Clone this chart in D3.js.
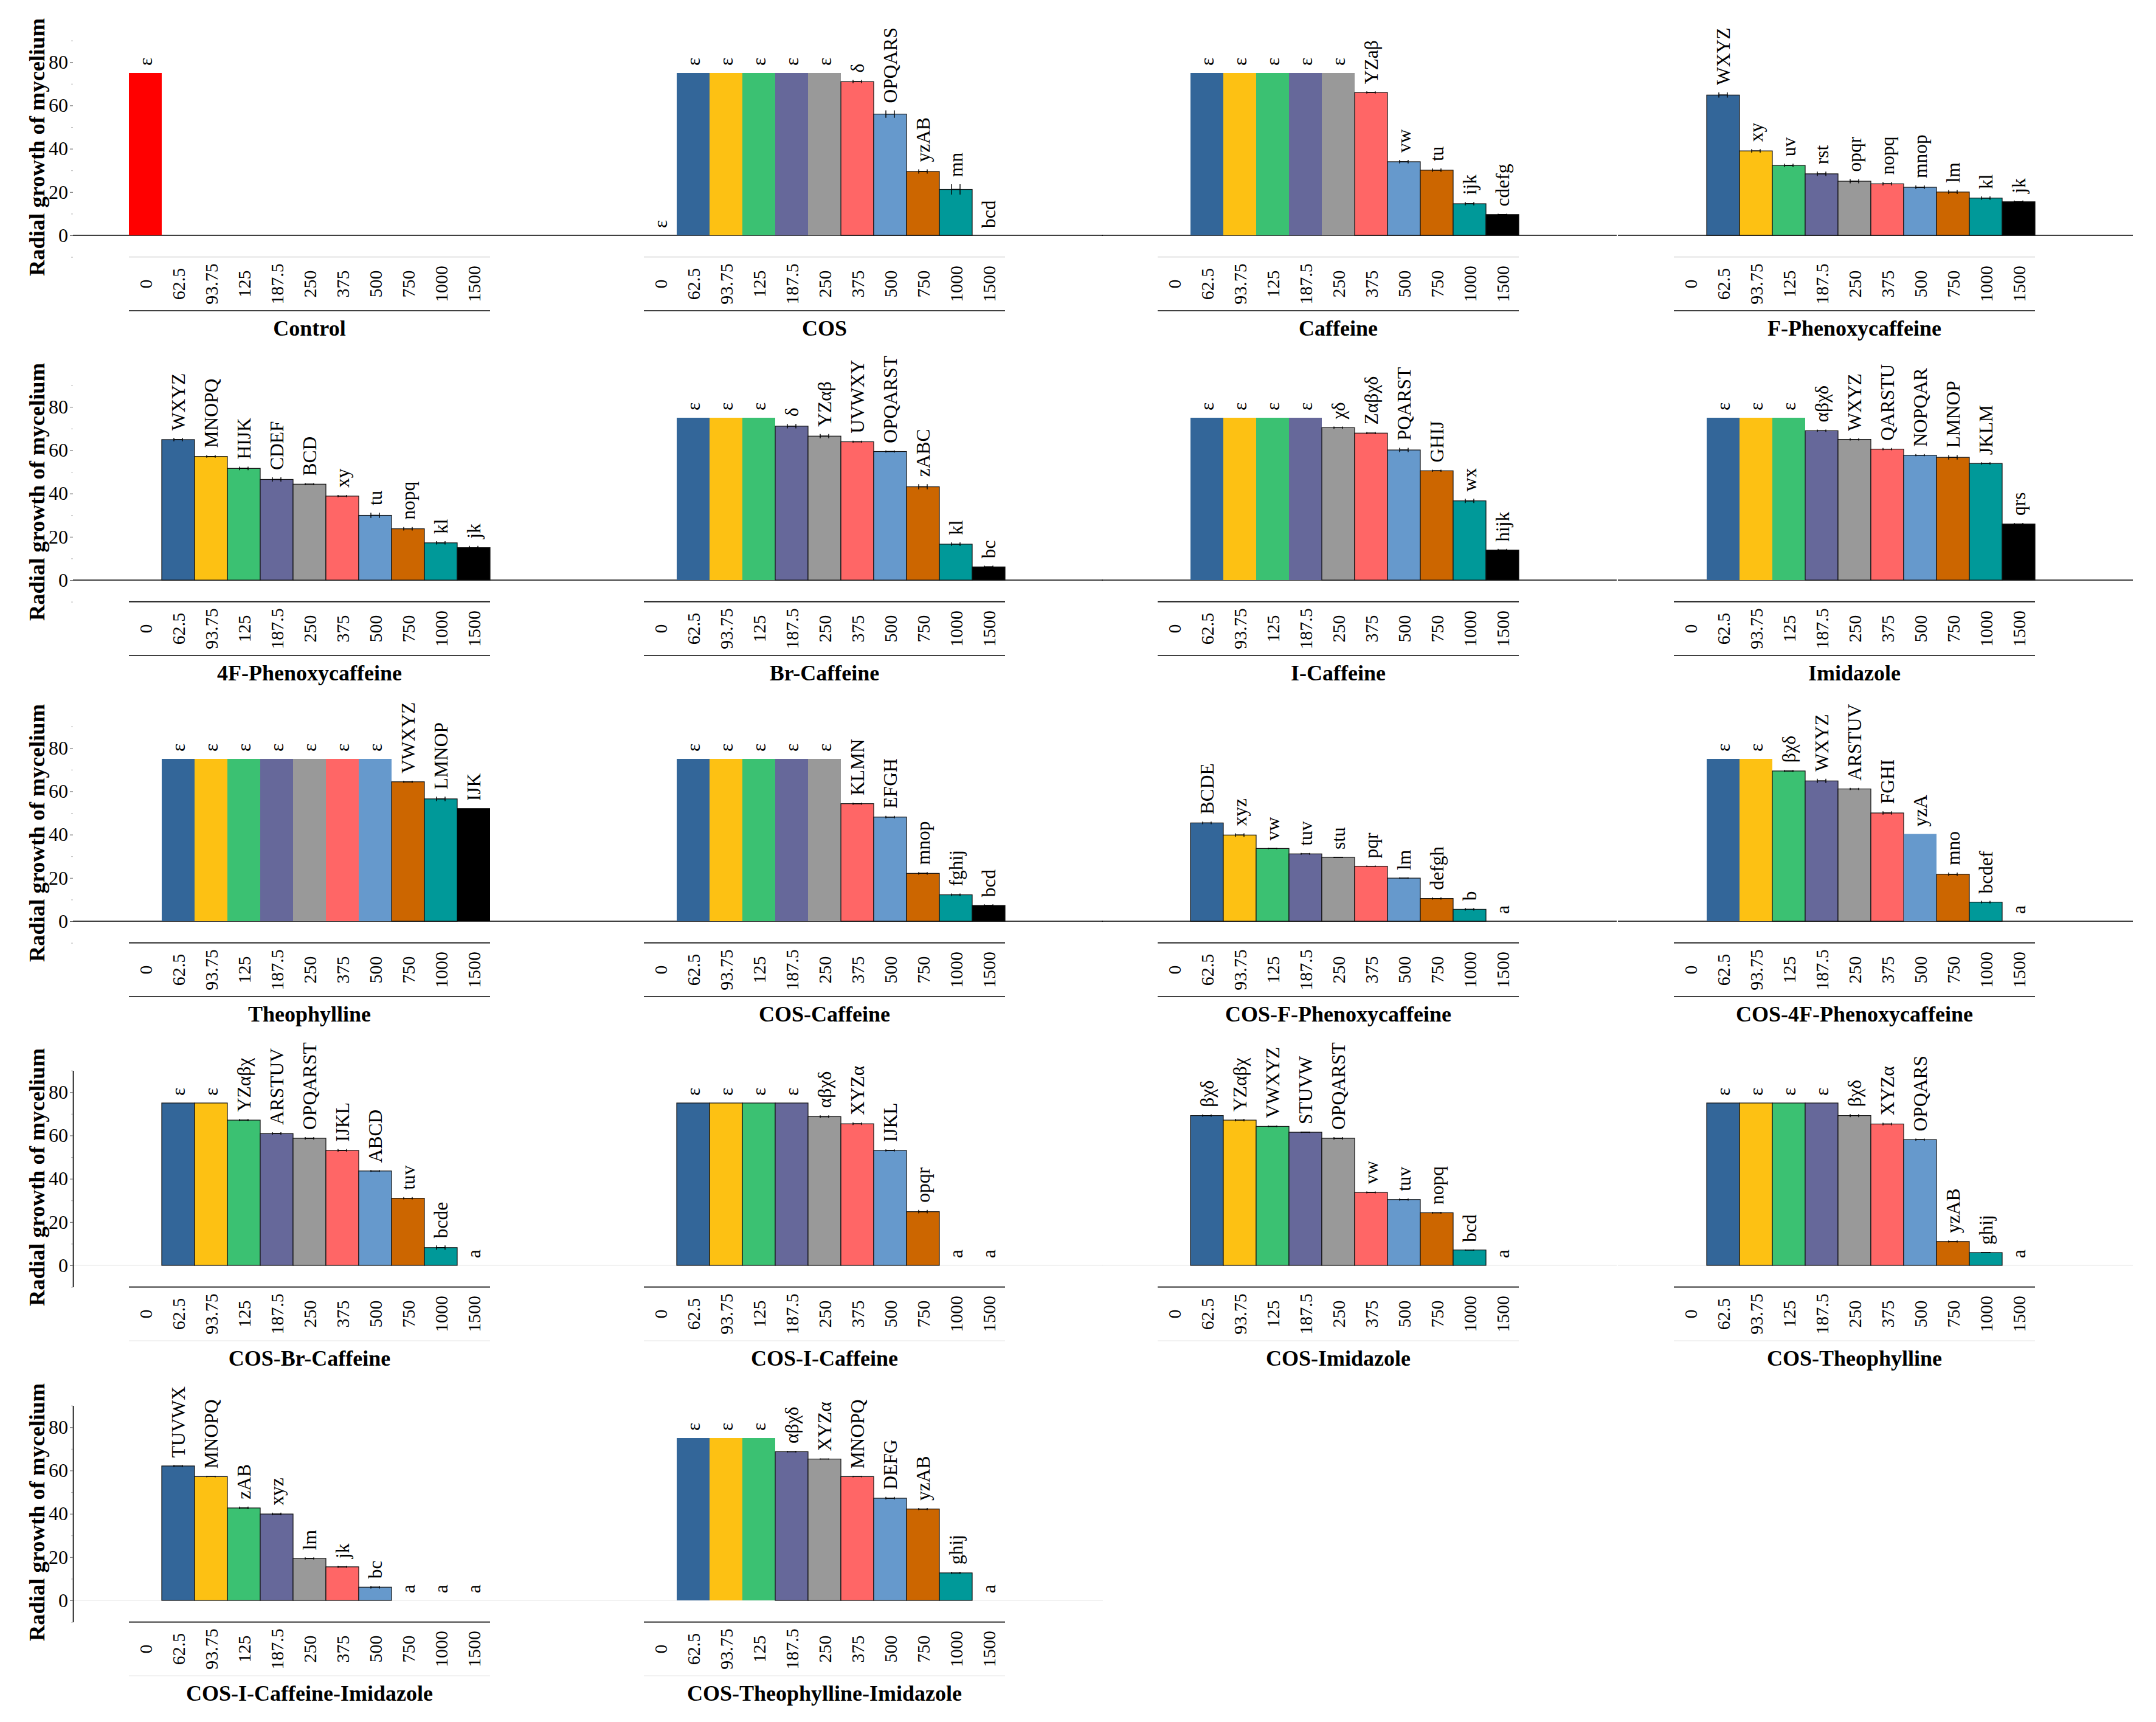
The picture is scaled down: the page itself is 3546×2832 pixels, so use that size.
<!DOCTYPE html>
<html><head><meta charset="utf-8">
<script src="https://cdn.jsdelivr.net/npm/d3@7"></script>
<style>
body{margin:0;background:#fff}
svg{display:block}
text{font-family:"Liberation Serif","Times New Roman",serif;fill:#000}
</style>
</head><body>
<svg id="chart" width="3546" height="2832"></svg>
<script>
// ---------------- DATA ----------------
const concentrations = ["0","62.5","93.75","125","187.5","250","375","500","750","1000","1500"];
const panelTitles = ["Control","COS","Caffeine","F-Phenoxycaffeine",
  "4F-Phenoxycaffeine","Br-Caffeine","I-Caffeine","Imidazole",
  "Theophylline","COS-Caffeine","COS-F-Phenoxycaffeine","COS-4F-Phenoxycaffeine",
  "COS-Br-Caffeine","COS-I-Caffeine","COS-Imidazole","COS-Theophylline",
  "COS-I-Caffeine-Imidazole","COS-Theophylline-Imidazole"];
const yTickValues = [0,20,40,60,80];
const barColors = ["#FF0000","#336699","#FDC113","#3BC172","#66689A","#999999","#FF6666","#6699CC","#CC6600","#009999","#000000"];

// radial growth (mean), one array per panel, ordered as concentrations
const growthValues = [
  [75,null,null,null,null,null,null,null,null,null,null],
  [0,75,75,75,75,75,71.0,56.0,29.5,21.2,0],
  [null,75,75,75,75,75,66.0,34.0,30.1,14.6,9.6],
  [null,64.8,39.0,32.3,28.4,25.0,23.8,22.2,20.0,17.2,15.5],
  [null,64.9,57.1,51.6,46.5,44.3,38.8,29.9,23.7,17.2,15.0],
  [null,75,75,75,71.1,66.5,63.9,59.4,43.1,16.6,6.1],
  [null,75,75,75,75,70.4,67.9,60.1,50.5,36.6,13.9],
  [null,75,75,75,69.0,65.0,60.5,57.7,56.7,53.9,25.9],
  [null,75,75,75,75,75,75,75,64.4,56.5,52.2],
  [null,75,75,75,75,75,54.3,48.1,22.1,12.2,7.3],
  [null,45.4,39.8,33.6,31.1,29.5,25.4,19.9,10.5,5.5,0],
  [null,75,75,69.4,64.8,61.1,50.0,40.3,21.7,8.8,0],
  [null,75,75,67.1,60.9,58.7,53.1,43.6,31.0,8.2,0],
  [null,75,75,75,75,68.7,65.4,53.1,24.8,0,0],
  [null,69.2,67.1,64.2,61.5,58.7,33.7,30.4,24.3,7.1,0],
  [null,75,75,75,75,69.2,65.3,58.1,11.0,5.9,0],
  [null,62.1,57.2,42.7,39.9,19.4,15.5,6.1,0,0,0],
  [null,75,75,75,68.7,65.3,57.2,47.2,42.2,12.7,0]
];
// error (± half range)
const errorValues = [
  [0,0,0,0,0,0,0,0,0,0,0],
  [0,0,0,0,0,0,0.8,1.7,1.0,2.4,0],
  [0,0,0,0,0,0,0.5,0.8,0.8,0.8,0.4],
  [0,1.2,0.8,0.8,1.0,1.0,0.8,0.8,0.9,0.8,0.6],
  [0,0.8,0.6,0.8,1.0,0.5,0.5,1.2,0.8,0.8,0.8],
  [0,0,0,0,1.0,1.0,0.5,0.5,1.2,0.8,0.6],
  [0,0,0,0,0,0.5,0.5,1.0,0.5,1.0,0.5],
  [0,0,0,0,0.5,0.5,0.5,0.5,1.0,0.5,0.5],
  [0,0,0,0,0,0,0,0,0.5,1.0,0],
  [0,0,0,0,0,0,0.5,0.6,0.6,0.6,0.5],
  [0,0.6,0.8,0.3,0.4,0.3,0.3,0.3,0.5,0.6,0],
  [0,0,0,0.5,1.0,0.5,0.8,0,0.8,0.6,0],
  [0,0,0,0.5,0.6,0.6,0.6,0.4,0.5,1.0,0],
  [0,0,0,0,0,0.6,0.6,0.5,0.8,0,0],
  [0,0.5,0.6,0.4,0.3,0.6,0.4,0.5,0.4,0.3,0],
  [0,0,0,0,0,0.7,0.6,0.5,0.5,0.3,0],
  [0,0.5,0.3,0.6,0.6,0.5,0.5,0.6,0,0,0],
  [0,0,0,0,0.4,0.3,0.3,0.6,0.5,0.5,0]
];
// significance letters
const letterLabels = [
  ["ε","","","","","","","","","",""],
  ["ε","ε","ε","ε","ε","ε","δ","OPQARS","yzAB","mn","bcd"],
  ["","ε","ε","ε","ε","ε","YZaβ","vw","tu","ijk","cdefg"],
  ["","WXYZ","xy","uv","rst","opqr","nopq","mnop","lm","kl","jk"],
  ["","WXYZ","MNOPQ","HIJK","CDEF","BCD","xy","tu","nopq","kl","jk"],
  ["","ε","ε","ε","δ","YZαβ","UVWXY","OPQARST","zABC","kl","bc"],
  ["","ε","ε","ε","ε","χδ","Zαβχδ","PQARST","GHIJ","wx","hijk"],
  ["","ε","ε","ε","αβχδ","WXYZ","QARSTU","NOPQAR","LMNOP","JKLM","qrs"],
  ["","ε","ε","ε","ε","ε","ε","ε","VWXYZ","LMNOP","IJK"],
  ["","ε","ε","ε","ε","ε","KLMN","EFGH","mnop","fghij","bcd"],
  ["","BCDE","xyz","vw","tuv","stu","pqr","lm","defgh","b","a"],
  ["","ε","ε","βχδ","WXYZ","ARSTUV","FGHI","yzA","mno","bcdef","a"],
  ["","ε","ε","YZαβχ","ARSTUV","OPQARST","IJKL","ABCD","tuv","bcde","a"],
  ["","ε","ε","ε","ε","αβχδ","XYZα","IJKL","opqr","a","a"],
  ["","βχδ","YZαβχ","VWXYZ","STUVW","OPQARST","vw","tuv","nopq","bcd","a"],
  ["","ε","ε","ε","ε","βχδ","XYZα","OPQARS","yzAB","ghij","a"],
  ["","TUVWX","MNOPQ","zAB","xyz","lm","jk","bc","a","a","a"],
  ["","ε","ε","ε","αβχδ","XYZα","MNOPQ","DEFG","yzAB","ghij","a"]
];

// ---------------- LAYOUT ----------------
const colX = [212, 1059, 1904, 2753];
const rowBase = [387, 954, 1515, 2081, 2632];
const bandW = 54;
const panelW = 847;
const rowStyle = [
  {base:"#000", top:"#dddddd", bottom:"#000", axis:false},
  {base:"#000", top:"#000", bottom:"#000", axis:false},
  {base:"#000", top:"#000", bottom:"#000", axis:false},
  {base:"#eeeeee", top:"#000", bottom:"#eeeeee", axis:true},
  {base:"#eeeeee", top:"#000", bottom:"#eeeeee", axis:true}
];

const svg = d3.select("#chart");
svg.append("rect").attr("width",3546).attr("height",2832).attr("fill","#fff");

panelTitles.forEach((title, i) => {
  const row = Math.floor(i/4), col = i%4;
  const x0 = colX[col], base = rowBase[row], st = rowStyle[row];
  const x = d3.scaleBand().domain(concentrations).range([x0, x0 + bandW*concentrations.length]).padding(0);
  const y = d3.scaleLinear().domain([-10, 90]).range([base + 35.6, base - 320.4]);
  const g = svg.append("g");
  const axisX = x0 - 92;

  // baseline
  g.append("line").attr("x1", axisX).attr("x2", axisX + panelW)
    .attr("y1", y(0)).attr("y2", y(0)).attr("stroke", st.base).attr("stroke-width", 1.6);

  // category label lines
  const [r0, r1] = x.range();
  g.append("line").attr("x1", r0).attr("x2", r1).attr("y1", y(-10)).attr("y2", y(-10))
    .attr("stroke", st.top).attr("stroke-width", 1.6);
  g.append("line").attr("x1", r0).attr("x2", r1).attr("y1", base + 124).attr("y2", base + 124)
    .attr("stroke", st.bottom).attr("stroke-width", 1.6);

  // category labels
  g.selectAll("text.cat").data(concentrations).enter().append("text")
    .attr("class","cat")
    .attr("transform", d => `translate(${x(d) + x.bandwidth()/2},${base + 80}) rotate(-90)`)
    .attr("text-anchor","middle").attr("dy","0.35em")
    .style("font-size","30px").text(d => d);

  // title
  g.append("text").attr("x", (r0 + r1)/2).attr("y", base + 152)
    .attr("text-anchor","middle").attr("dy","0.35em")
    .style("font-size","36px").style("font-weight","bold").text(title);

  // y axis (first column only)
  if (col === 0) {
    const ax = g.append("g").attr("transform", `translate(${axisX},0)`);
    const minor = d3.axisLeft(y).tickValues([-10,10,30,50,70,90]).tickSize(3).tickFormat("");
    const mg = ax.append("g").call(minor);
    mg.selectAll("line").attr("stroke","#bbbbbb");
    mg.select(".domain").remove();
    const major = d3.axisLeft(y).tickValues(yTickValues).tickSize(5).tickPadding(3).tickSizeOuter(0);
    const jg = ax.append("g").call(major);
    jg.selectAll("text").style("font-size","32px").style("font-family",'"Liberation Serif","Times New Roman",serif').attr("fill","#000");
    jg.selectAll("line").attr("stroke", "#666");
    if (st.axis) jg.select(".domain").attr("stroke","#000").attr("stroke-width",1.6);
    else jg.select(".domain").remove();
    g.append("text")
      .attr("transform", `translate(60,${base - 145}) rotate(-90)`)
      .attr("text-anchor","middle").attr("dy","0.35em")
      .style("font-size","36.5px").style("font-weight","bold")
      .text("Radial growth of mycelium");
  }

  const vals = growthValues[i], errs = errorValues[i], lbls = letterLabels[i];
  const items = concentrations.map((c, k) => ({c, k, v: vals[k], e: errs[k], l: lbls[k]}));
  const outlined = row === 3;

  // bars
  g.selectAll("rect.bar").data(items.filter(d => d.v !== null && d.v > 0)).enter().append("rect")
    .attr("class","bar")
    .attr("x", d => x(d.c)).attr("width", x.bandwidth())
    .attr("y", d => y(d.v)).attr("height", d => y(0) - y(d.v))
    .attr("fill", d => barColors[d.k])
    .attr("stroke", d => (d.e > 0 || outlined) ? "#111" : "none")
    .attr("stroke-width", 1.2);

  // error bars
  const eb = items.filter(d => d.v !== null && d.e > 0);
  const hw = 7;
  eb.forEach(d => {
    const cx = x(d.c) + x.bandwidth()/2;
    const p = d3.path();
    p.moveTo(cx - hw, y(d.v + d.e)); p.lineTo(cx - hw, y(d.v - d.e));
    p.moveTo(cx + hw, y(d.v + d.e)); p.lineTo(cx + hw, y(d.v - d.e));
    p.moveTo(cx - hw, y(d.v)); p.lineTo(cx + hw, y(d.v));
    g.append("path").attr("d", p.toString()).attr("stroke","#000").attr("stroke-width",1.4).attr("fill","none");
  });

  // letters
  g.selectAll("text.sig").data(items.filter(d => d.l !== "")).enter().append("text")
    .attr("class","sig")
    .attr("transform", d => `translate(${x(d.c) + x.bandwidth()/2},${y((d.v || 0) + d.e) - 12}) rotate(-90)`)
    .attr("text-anchor","start").attr("dy","0.35em")
    .style("font-size","31.5px").text(d => d.l);
});
</script>
</body></html>
